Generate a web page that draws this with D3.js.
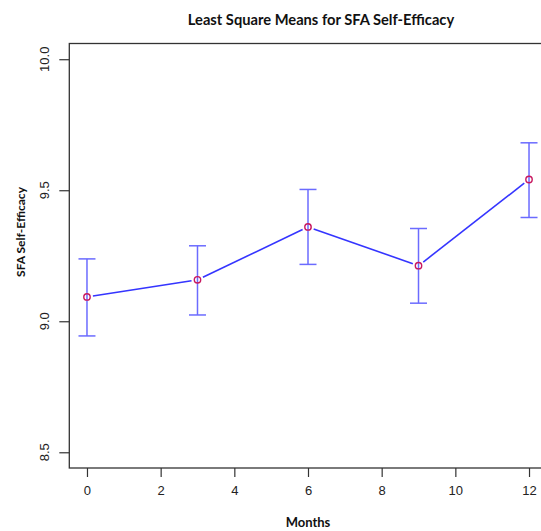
<!DOCTYPE html>
<html>
<head>
<meta charset="utf-8">
<script src="https://cdn.jsdelivr.net/npm/d3@7"></script>
<style>
  html, body { margin: 0; padding: 0; background: #fff; }
  svg { display: block; }
</style>
</head>
<body>
<svg id="chart" width="541" height="531"></svg>
<script>
const months = [0, 3, 6, 9, 12];
const means  = [9.093, 9.158, 9.360, 9.212, 9.541];
const upper  = [9.238, 9.288, 9.503, 9.354, 9.681];
const lower  = [8.944, 9.024, 9.217, 9.069, 9.396];
const xTicks = [0, 2, 4, 6, 8, 10, 12];
const yTicks = [8.5, 9.0, 9.5, 10.0];

const svg = d3.select("#chart");

// scales (R-style 4% extension)
const x = d3.scaleLinear().domain([-0.48, 12.48]).range([69.3, 546.7]);
const y = d3.scaleLinear().domain([8.44, 10.06]).range([468, 43.5]);

// plot box
svg.append("rect")
  .attr("x", x(-0.48)).attr("y", y(10.06))
  .attr("width", x(12.48) - x(-0.48)).attr("height", y(8.44) - y(10.06))
  .attr("fill", "none").attr("stroke", "#333").attr("stroke-width", 1.3);

// y axis
const yAxis = svg.append("g").attr("transform", `translate(${x(-0.48)},0)`)
  .call(d3.axisLeft(y).tickValues(yTicks).tickFormat(d3.format(".1f")).tickSize(10).tickPadding(0));
yAxis.select(".domain").remove();
yAxis.selectAll("line").attr("stroke", "#333").attr("stroke-width", 1.2);
yAxis.selectAll("text").remove();
yTicks.forEach(v => {
  svg.append("text")
    .attr("transform", `translate(44,${y(v)}) rotate(-90)`)
    .attr("text-anchor", "middle").attr("dominant-baseline", "central")
    .attr("font-family", "Liberation Sans, Arial, sans-serif").attr("font-size", 13)
    .attr("fill", "#222")
    .text(d3.format(".1f")(v));
});

// x axis
const xAxis = svg.append("g").attr("transform", `translate(0,${y(8.44)})`)
  .call(d3.axisBottom(x).tickValues(xTicks).tickFormat(d3.format("d")).tickSize(9).tickPadding(9));
xAxis.select(".domain").remove();
xAxis.selectAll("line").attr("stroke", "#333").attr("stroke-width", 1.2);
xAxis.selectAll("text")
  .attr("font-family", "Liberation Sans, Arial, sans-serif").attr("font-size", 13)
  .attr("fill", "#222");

// titles
svg.append("text").attr("x", 321).attr("y", 25)
  .attr("text-anchor", "middle")
  .attr("font-family", "Lato, 'Open Sans', sans-serif").attr("font-weight", "bold")
  .attr("font-size", 14.7).attr("fill", "#111")
  .text("Least Square Means for SFA Self-Efficacy");

svg.append("text").attr("x", 308).attr("y", 527)
  .attr("text-anchor", "middle")
  .attr("font-family", "Lato, 'Open Sans', sans-serif").attr("font-weight", "bold")
  .attr("font-size", 13).attr("fill", "#111")
  .text("Months");

svg.append("text")
  .attr("transform", `translate(20,232) rotate(-90)`)
  .attr("text-anchor", "middle").attr("dominant-baseline", "central")
  .attr("font-family", "Lato, 'Open Sans', sans-serif").attr("font-weight", "bold")
  .attr("font-size", 12).attr("fill", "#111")
  .text("SFA Self-Efficacy");

// data
const data = months.map((m, i) => ({m, mean: means[i], hi: upper[i], lo: lower[i]}));

// error bars
const eb = svg.append("g").attr("stroke", "#6b6bff").attr("stroke-width", 1.5).attr("fill", "none");
data.forEach(d => {
  const cx = x(d.m);
  eb.append("line").attr("x1", cx).attr("x2", cx).attr("y1", y(d.hi)).attr("y2", y(d.lo));
  eb.append("line").attr("x1", cx - 8.5).attr("x2", cx + 8.5).attr("y1", y(d.hi)).attr("y2", y(d.hi));
  eb.append("line").attr("x1", cx - 8.5).attr("x2", cx + 8.5).attr("y1", y(d.lo)).attr("y2", y(d.lo));
});

// line segments with gaps (type = "b")
const gap = 6;
const lg = svg.append("g").attr("stroke", "#3535ff").attr("stroke-width", 1.6);
for (let i = 0; i < data.length - 1; i++) {
  const x1 = x(data[i].m), y1 = y(data[i].mean), x2 = x(data[i+1].m), y2 = y(data[i+1].mean);
  const len = Math.hypot(x2 - x1, y2 - y1);
  const ux = (x2 - x1) / len, uy = (y2 - y1) / len;
  lg.append("line")
    .attr("x1", x1 + ux * gap).attr("y1", y1 + uy * gap)
    .attr("x2", x2 - ux * gap).attr("y2", y2 - uy * gap);
}

// points
svg.append("g").selectAll("circle").data(data).join("circle")
  .attr("cx", d => x(d.m)).attr("cy", d => y(d.mean)).attr("r", 3.2)
  .attr("fill", "none").attr("stroke", "#c8185f").attr("stroke-width", 1.4);
</script>
</body>
</html>
